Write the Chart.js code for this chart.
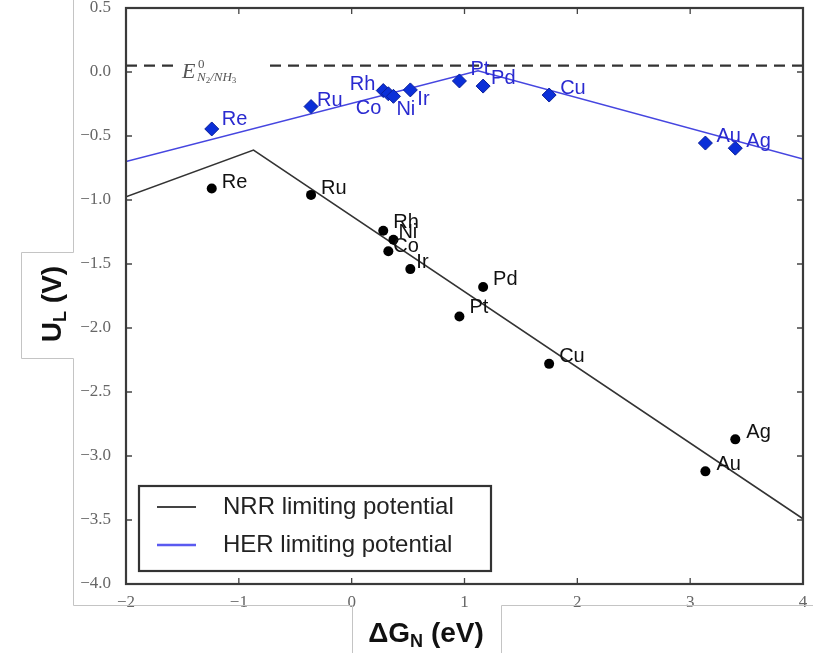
<!DOCTYPE html>
<html>
<head>
<meta charset="utf-8">
<script src="https://cdn.jsdelivr.net/npm/chart.js@4.4.0/dist/chart.umd.min.js"></script>
<style>
  html, body { margin: 0; padding: 0; background: #fff; }
  #wrap { position: relative; width: 813px; height: 653px; }
</style>
</head>
<body>
<div id="wrap"><canvas id="chart" width="813" height="653"></canvas></div>
<script>
// ============================================
// NRR / HER limiting potential volcano
// ============================================

// Data
const metals  = ['Re', 'Ru', 'Rh', 'Co', 'Ni', 'Ir', 'Pt', 'Pd', 'Cu', 'Au', 'Ag'];
const deltaGN = [-1.24, -0.36, 0.28, 0.325, 0.37, 0.52, 0.955, 1.165, 1.75, 3.135, 3.40];
const nrrUL   = [-0.91, -0.96, -1.24, -1.40, -1.31, -1.54, -1.91, -1.68, -2.28, -3.12, -2.87];
const herUL   = [-0.445, -0.27, -0.145, -0.17, -0.19, -0.14, -0.07, -0.11, -0.18, -0.555, -0.595];

// Limiting potential lines (two branches each)
const nrrLineX = [-2, -0.87, 4];
const nrrLineY = [-0.975, -0.61, -3.49];
const herLineX = [-2, 1.12, 4];
const herLineY = [-0.70, 0.01, -0.68];

// Equilibrium potential E0 N2/NH3
const eqPotential = 0.05;

// Axis ranges
const xRange = [-2, 4];
const yRange = [-4, 0.5];

// Label placement (text offset from point, px)
const nrrLabelOffset = {
    Re: [10, -6], Ru: [10, -6], Rh: [10, -8], Co: [5, -5], Ni: [5, -7], Ir: [6, -7],
    Pt: [10, -9], Pd: [10, -8], Cu: [10, -7], Au: [11, -7], Ag: [11, -7]
};
const herLabelOffset = {
    Re: [10, -9], Ru: [6, -6], Rh: [-8, -6, 'right'], Co: [-7, 15, 'right'], Ni: [3, 13],
    Ir: [7, 10], Pt: [11, -11], Pd: [8, -8], Cu: [11, -7], Au: [11, -7], Ag: [11, -7]
};

const toPoints = (xs, ys) => xs.map((x, i) => ({ x: x, y: ys[i] }));
const minus = s => String(s).replace('-', '\u2212');

const SERIF = "'Liberation Serif', 'DejaVu Serif', serif";
const SANS = "'Liberation Sans', Arial, sans-serif";
const BLUE_TEXT = '#2a2ad0';

// Plot frame, inward ticks, labels, legend, axis titles
const decorations = {
    id: 'decorations',
    beforeDraw(chart) {
        const ctx = chart.ctx;
        ctx.save();
        ctx.fillStyle = '#fff';
        ctx.fillRect(0, 0, chart.width, chart.height);
        ctx.restore();
    },
    afterDatasetsDraw(chart) {
        const ctx = chart.ctx;
        const xs = chart.scales.x, ys = chart.scales.y;

        // E0 label with white backing over the dashed line
        const lx = xs.getPixelForValue(-1.53);
        const ly = ys.getPixelForValue(eqPotential);
        ctx.save();
        ctx.fillStyle = '#fff';
        ctx.fillRect(lx - 4, ly - 10, 88, 24);
        ctx.fillStyle = '#555';
        ctx.textBaseline = 'alphabetic';
        ctx.font = 'italic 22px ' + SERIF;
        ctx.fillText('E', lx + 3, ly + 12);
        ctx.font = '13px ' + SERIF;
        ctx.fillText('0', lx + 19, ly + 2);
        let sx = lx + 18;
        const sub = [['N', 'italic 13px'], ['2', '9px'], ['/', 'italic 13px'], ['NH', 'italic 13px'], ['3', '9px']];
        sub.forEach(([t, f]) => {
            ctx.font = f + ' ' + SERIF;
            const dy = f.startsWith('9') ? 17 : 15;
            ctx.fillText(t, sx, ly + dy);
            sx += ctx.measureText(t).width;
        });
        ctx.restore();

        // Point labels
        ctx.save();
        ctx.font = '20px ' + SANS;
        ctx.textBaseline = 'middle';
        metals.forEach((m, i) => {
            const px = xs.getPixelForValue(deltaGN[i]);
            let o = nrrLabelOffset[m];
            ctx.fillStyle = '#111';
            ctx.textAlign = o[2] || 'left';
            ctx.fillText(m, px + o[0], ys.getPixelForValue(nrrUL[i]) + o[1]);
            o = herLabelOffset[m];
            ctx.fillStyle = BLUE_TEXT;
            ctx.textAlign = o[2] || 'left';
            ctx.fillText(m, px + o[0], ys.getPixelForValue(herUL[i]) + o[1]);
        });
        ctx.restore();
    },
    afterDraw(chart) {
        const ctx = chart.ctx;
        const a = chart.chartArea;
        const xs = chart.scales.x, ys = chart.scales.y;

        // Frame and inward ticks on all sides
        ctx.save();
        ctx.strokeStyle = '#444';
        ctx.lineWidth = 1.3;
        ctx.beginPath();
        xs.ticks.forEach(t => {
            const p = xs.getPixelForValue(t.value);
            ctx.moveTo(p, a.bottom); ctx.lineTo(p, a.bottom - 6);
            ctx.moveTo(p, a.top); ctx.lineTo(p, a.top + 6);
        });
        ys.ticks.forEach(t => {
            const p = ys.getPixelForValue(t.value);
            ctx.moveTo(a.left, p); ctx.lineTo(a.left + 6, p);
            ctx.moveTo(a.right, p); ctx.lineTo(a.right - 6, p);
        });
        ctx.stroke();
        ctx.lineWidth = 2.2;
        ctx.strokeStyle = '#3a3a3a';
        ctx.strokeRect(a.left, a.top, a.right - a.left, a.bottom - a.top);
        ctx.restore();

        // Legend
        ctx.save();
        ctx.fillStyle = '#fff';
        ctx.fillRect(139, 486, 352, 85);
        ctx.strokeStyle = '#333';
        ctx.lineWidth = 2.2;
        ctx.strokeRect(139, 486, 352, 85);
        ctx.lineWidth = 2;
        ctx.strokeStyle = '#444';
        ctx.beginPath(); ctx.moveTo(157, 507); ctx.lineTo(196, 507); ctx.stroke();
        ctx.strokeStyle = '#5a5af0';
        ctx.lineWidth = 2.5;
        ctx.beginPath(); ctx.moveTo(157, 545); ctx.lineTo(196, 545); ctx.stroke();
        ctx.fillStyle = '#222';
        ctx.font = '24px ' + SANS;
        ctx.textBaseline = 'middle';
        ctx.fillText('NRR limiting potential', 223, 507);
        ctx.fillText('HER limiting potential', 223, 545);
        ctx.restore();

        // Outer picture border (light gray)
        ctx.save();
        ctx.strokeStyle = '#c4c4c4';
        ctx.lineWidth = 1;
        ctx.beginPath();
        ctx.moveTo(73.5, 0); ctx.lineTo(73.5, 252.5); ctx.lineTo(21.5, 252.5);
        ctx.lineTo(21.5, 358.5); ctx.lineTo(73.5, 358.5); ctx.lineTo(73.5, 605.5);
        ctx.lineTo(352.5, 605.5); ctx.lineTo(352.5, 653);
        ctx.moveTo(501.5, 653); ctx.lineTo(501.5, 605.5); ctx.lineTo(813, 605.5);
        ctx.stroke();
        ctx.restore();

        // Axis titles
        ctx.save();
        ctx.fillStyle = '#111';
        ctx.textBaseline = 'alphabetic';
        const big = 'bold 28px ' + SANS, small = 'bold 18px ' + SANS;
        const drawTitle = (parts) => {
            let w = 0;
            parts.forEach(([t, f]) => { ctx.font = f; w += ctx.measureText(t).width; });
            let x = -w / 2;
            parts.forEach(([t, f, dy]) => {
                ctx.font = f;
                ctx.fillText(t, x, dy);
                x += ctx.measureText(t).width;
            });
        };
        ctx.translate(426, 642);
        drawTitle([['\u0394G', big, 0], ['N', small, 5], [' (eV)', big, 0]]);
        ctx.setTransform(1, 0, 0, 1, 0, 0);
        ctx.translate(61, 304);
        ctx.rotate(-Math.PI / 2);
        drawTitle([['U', big, 0], ['L', small, 5], [' (V)', big, 0]]);
        ctx.restore();
    }
};

new Chart(document.getElementById('chart'), {
    type: 'scatter',
    data: {
        datasets: [
            {
                label: 'HER points',
                data: toPoints(deltaGN, herUL),
                pointStyle: 'rectRot',
                pointRadius: 7,
                backgroundColor: '#0b2fd8',
                borderColor: '#0a1f9a',
                borderWidth: 1
            },
            {
                label: 'NRR points',
                data: toPoints(deltaGN, nrrUL),
                pointStyle: 'circle',
                pointRadius: 5,
                backgroundColor: '#000',
                borderColor: '#000',
                borderWidth: 0
            },
            {
                label: 'HER limiting potential',
                data: toPoints(herLineX, herLineY),
                showLine: true,
                pointRadius: 0,
                borderColor: '#4646e0',
                borderWidth: 1.6
            },
            {
                label: 'NRR limiting potential',
                data: toPoints(nrrLineX, nrrLineY),
                showLine: true,
                pointRadius: 0,
                borderColor: '#333',
                borderWidth: 1.6
            },
            {
                label: 'E0',
                data: toPoints(xRange, [eqPotential, eqPotential]),
                showLine: true,
                pointRadius: 0,
                borderColor: '#333',
                borderWidth: 2.4,
                borderDash: [11, 7]
            }
        ]
    },
    options: {
        responsive: false,
        animation: false,
        events: [],
        layout: { padding: { top: 8, right: 10, left: 0, bottom: 0 } },
        plugins: {
            legend: { display: false },
            tooltip: { enabled: false }
        },
        scales: {
            x: {
                type: 'linear',
                min: xRange[0],
                max: xRange[1],
                grid: { display: false },
                border: { display: false },
                ticks: {
                    stepSize: 1,
                    padding: 0,
                    color: '#666',
                    font: { family: SERIF, size: 17 },
                    callback: v => minus(v)
                },
                afterFit: s => { s.height = 69; s.paddingLeft = 0; s.paddingRight = 0; }
            },
            y: {
                type: 'linear',
                min: yRange[0],
                max: yRange[1],
                grid: { display: false },
                border: { display: false },
                ticks: {
                    stepSize: 0.5,
                    padding: 7,
                    color: '#666',
                    font: { family: SERIF, size: 17 },
                    callback: v => minus(Number(v).toFixed(1))
                },
                afterFit: s => { s.width = 126; s.paddingTop = 0; s.paddingBottom = 0; }
            }
        }
    },
    plugins: [decorations]
});
</script>
</body>
</html>
